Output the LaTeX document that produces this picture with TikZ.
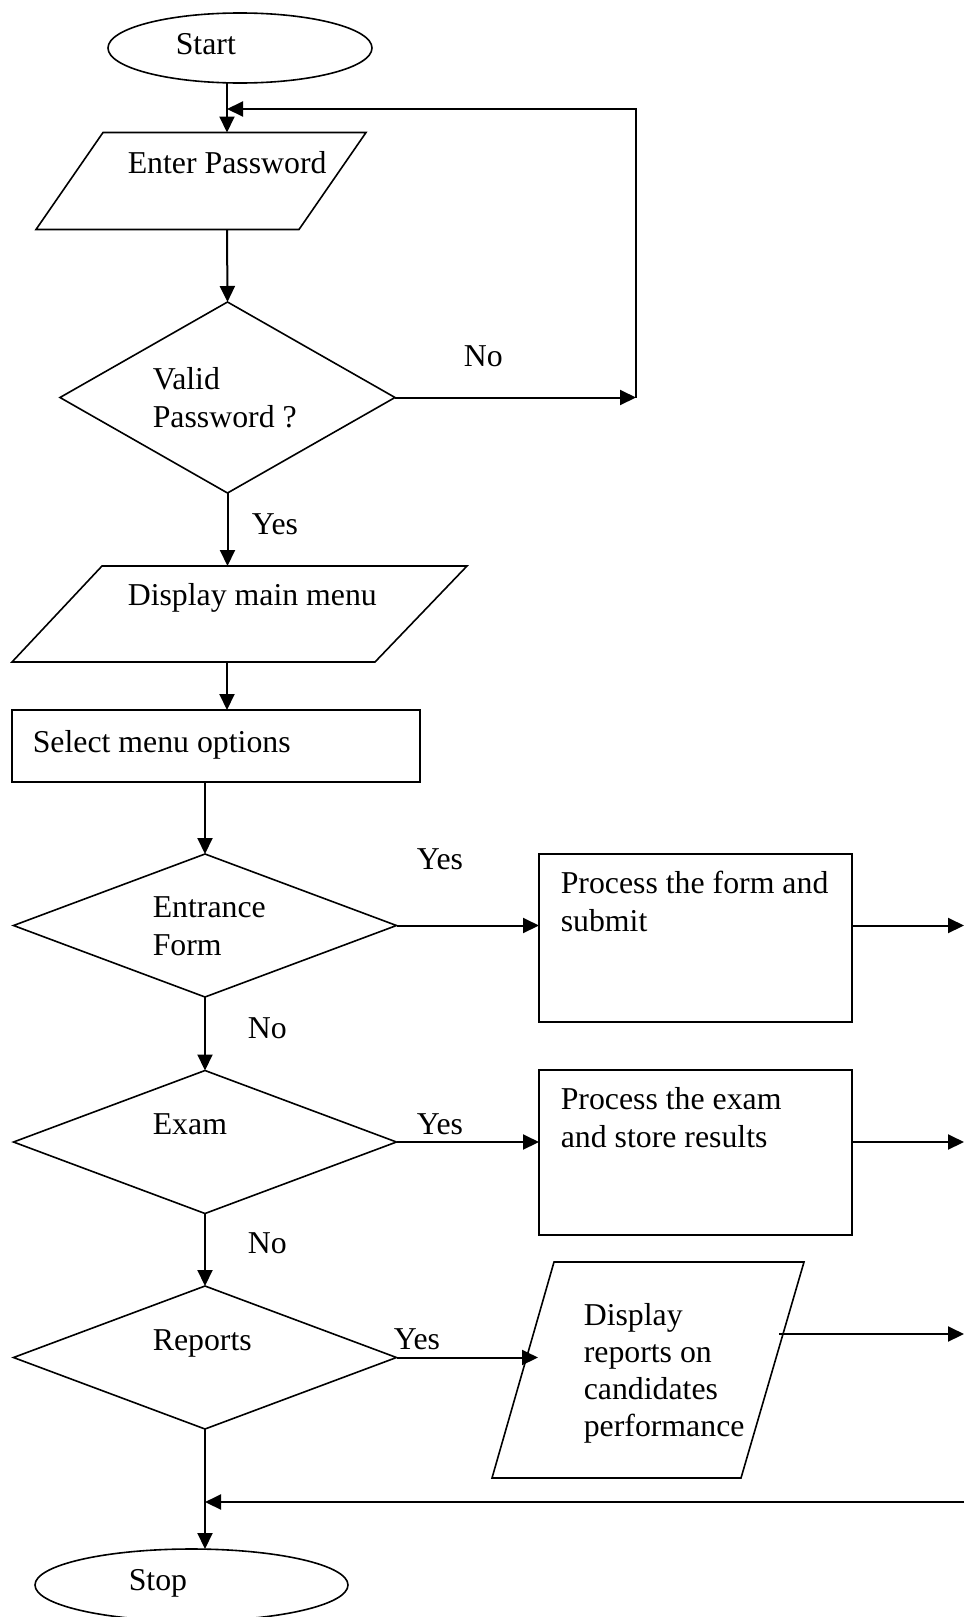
\documentclass[tikz,border=0pt]{standalone}
\usepackage{fontspec}
\setmainfont{Liberation Serif}
\usetikzlibrary{arrows.meta,shapes.geometric,calc}
\begin{document}
\begin{tikzpicture}[x=1pt,y=-1pt,line width=1.6pt,
  txt/.style={font=\fontsize{31.8}{38}\selectfont,inner sep=0pt,anchor=base west},
  arr/.style={line width=2pt,-{Triangle[length=16pt,width=15pt]}},
  frame/.style={rectangle,inner sep=0pt,outer sep=0pt},
  boxed/.style={draw,rectangle,inner sep=0pt,outer sep=0pt},
  oval/.style={draw,ellipse,inner sep=0pt,outer sep=0pt},
  decision/.style={draw,diamond,inner sep=0pt,outer sep=0pt,minimum width=383pt,minimum height=143pt}]
\useasboundingbox (0,0) rectangle (964,1617);
% axes and free ends
\coordinate (axA) at (227,0);
\coordinate (axB) at (205,0);
\coordinate (redge) at (964,0);
\coordinate (lpb) at (636,0);
\coordinate (lpt) at (636,109);
% Start
\node[oval,minimum width=264pt,minimum height=70pt] (start) at (240,48) {};
\node[txt] (tstart) at (175,54) {Start};
% Enter Password (parallelogram)
\node[frame,minimum width=330pt,minimum height=97pt] (enter) at (201,181) {};
\draw ($(enter.north west)+(67,0)$) -- (enter.north east) -- ($(enter.south east)+(-67,0)$) -- (enter.south west) -- cycle;
\node[txt] (tenter) at (127,173) {Enter Password};
% Valid password
\node[draw,diamond,inner sep=0pt,outer sep=0pt,minimum width=335pt,minimum height=191pt] (valid) at (227.5,397.5) {};
\node[txt] (tvalid1) at (152,389) {Valid};
\node[txt] (tvalid2) at (152,427) {Password ?};
\node[txt] (tno1) at (463,366) {No};
\node[txt] (tyes1) at (251,534) {Yes};
% Display main menu
\node[frame,minimum width=455pt,minimum height=96pt] (menu) at (239.5,614) {};
\draw ($(menu.north west)+(90,0)$) -- (menu.north east) -- ($(menu.south east)+(-92,0)$) -- (menu.south west) -- cycle;
\node[txt] (tmenu) at (127,605) {Display main menu};
% Select menu options
\node[boxed,minimum width=408pt,minimum height=72pt] (select) at (216,746) {};
\node[txt] (tselect) at (32,752) {Select menu options};
% Entrance form
\node[decision] (entr) at (205,925.5) {};
\node[txt] (tentr1) at (152,917) {Entrance};
\node[txt] (tentr2) at (152,955) {Form};
\node[txt] (tyes2) at (416,869) {Yes};
\node[txt] (tno2) at (247,1038) {No};
\node[boxed,minimum width=313pt,minimum height=168pt] (form) at (695.5,938) {};
\node[txt] (tform1) at (560,893) {Process the form and};
\node[txt] (tform2) at (560,931) {submit};
% Exam
\node[decision] (exam) at (205,1142) {};
\node[txt] (texam) at (152,1134) {Exam};
\node[txt] (tyes3) at (416,1134) {Yes};
\node[txt] (tno3) at (247,1253) {No};
\node[boxed,minimum width=313pt,minimum height=165pt] (examp) at (695.5,1152.5) {};
\node[txt] (texamp1) at (560,1109) {Process the exam};
\node[txt] (texamp2) at (560,1147) {and store results};
% Reports
\node[decision] (rep) at (205,1357.5) {};
\node[txt] (trep) at (152,1350) {Reports};
\node[txt] (tyes4) at (393,1349) {Yes};
\node[frame,minimum width=312pt,minimum height=216pt] (rp) at (648,1370) {};
\draw ($(rp.north west)+(62,0)$) -- (rp.north east) -- ($(rp.south east)+(-63,0)$) -- (rp.south west) -- cycle;
\node[txt] (trp1) at (583,1325) {Display};
\node[txt] (trp2) at (583,1362) {reports on};
\node[txt] (trp3) at (583,1399) {candidates};
\node[txt] (trp4) at (583,1436) {performance};
\coordinate (rpin) at (538,1357.5);
\coordinate (rpout) at (779,1334);
\coordinate (ret) at (964,1502);
% Stop
\node[oval,minimum width=313pt,minimum height=72pt] (stop) at (191.5,1585) {};
\node[txt] (tstop) at (128,1590) {Stop};
% connectors
\draw[arr] (start.south -| axA) -- (enter.north -| axA);
\draw[arr] (enter.south -| axA) -- (valid.north);
\draw[arr] (valid.east) -- (valid.east -| lpb);
\draw[arr] (valid.east -| lpb) -- (lpt) -- (lpt -| axA);
\draw[arr] (valid.south) -- (menu.north -| valid.south);
\draw[arr] (menu.south -| axA) -- (select.north -| axA);
\draw[arr] (select.south -| axB) -- (entr.north);
\draw[arr] (entr.east) -- (entr.east -| form.west);
\draw[arr] (entr.east -| form.east) -- (entr.east -| redge);
\draw[arr] (entr.south) -- (exam.north);
\draw[arr] (exam.east) -- (exam.east -| examp.west);
\draw[arr] (exam.east -| examp.east) -- (exam.east -| redge);
\draw[arr] (exam.south) -- (rep.north);
\draw[arr] (rep.east) -- (rpin);
\draw[arr] (rpout) -- (rpout -| redge);
\draw[arr] (ret) -- (ret -| axB);
\draw[arr] (rep.south) -- (rep.south |- stop.north);
\end{tikzpicture}
\end{document}
